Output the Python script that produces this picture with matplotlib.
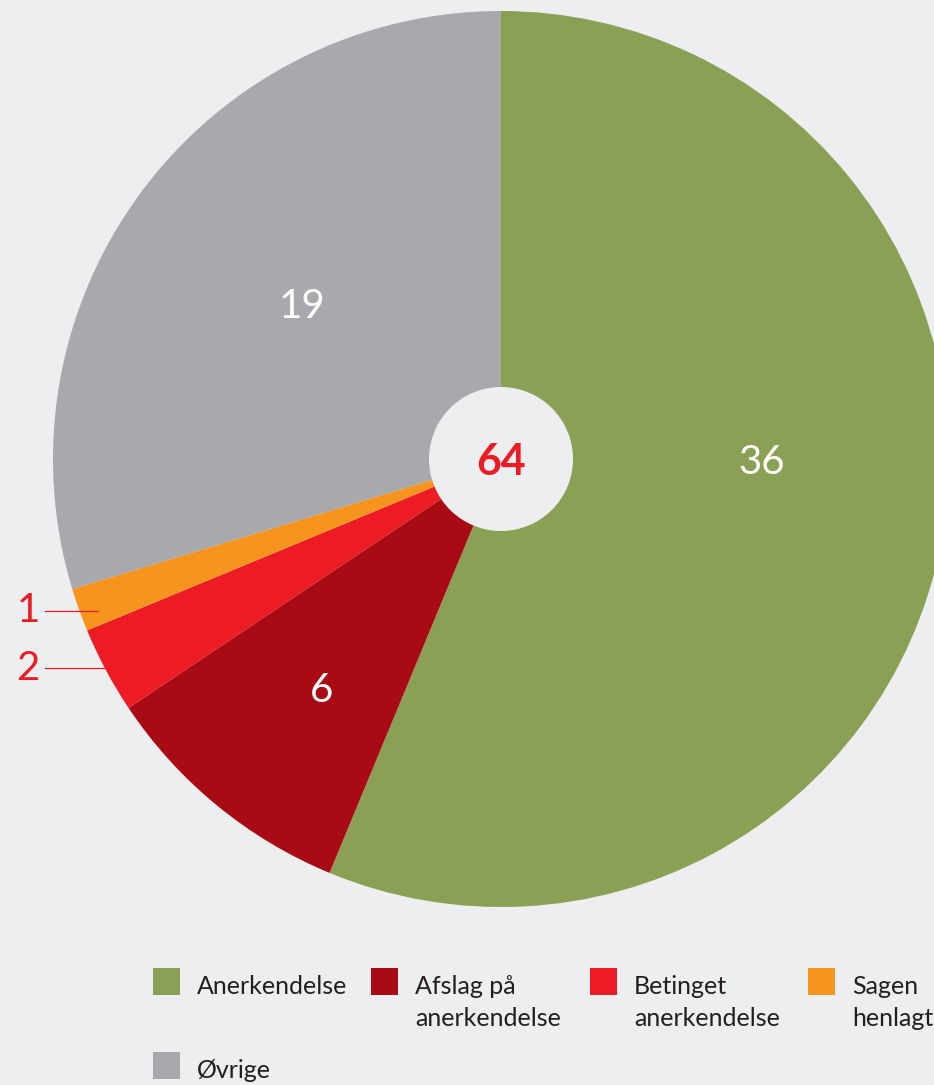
import matplotlib
matplotlib.use("Agg")
import matplotlib.pyplot as plt
from matplotlib.patches import Circle, Rectangle

BG = "#edeef0"
W, H = 934, 1085

categories = ["Anerkendelse", "Afslag på\nanerkendelse", "Betinget\nanerkendelse",
              "Sagen\nhenlagt", "Øvrige"]
values = [36, 6, 2, 1, 19]
colors = ["#8aa055", "#a90b14", "#ed1c24", "#f7941d", "#a7a9ac"]
total = sum(values)

# layout (pixel space, y measured from top)
CX, CY, R, HOLE = 501, 459, 448, 72
label_pos = [(762, 462), (322, 690), (28, 668), (28, 611), (302, 307)]
outside = [False, False, True, True, False]
leader_end = [None, None, 104, 98, None]
legend_xy = [(153, 968), (371, 968), (590, 968), (808, 968), (153, 1052)]

plt.rcParams["font.family"] = ["Lato", "DejaVu Sans"]

fig = plt.figure(figsize=(W / 100, H / 100), dpi=100, facecolor=BG)
ax = fig.add_axes([0, 0, 1, 1])
ax.set_facecolor(BG)

ax.pie(values, colors=colors, startangle=90, counterclock=False,
       radius=R, center=(CX, H - CY), wedgeprops=dict(linewidth=0))
ax.add_patch(Circle((CX, H - CY), HOLE, color=BG, lw=0, zorder=3))
ax.text(CX, H - CY - 3, str(total), color="#ed1c24", fontsize=31, fontweight="bold",
        ha="center", va="center", zorder=4)

for v, (x, y), out, le in zip(values, label_pos, outside, leader_end):
    if out:
        ax.text(x, H - y, str(v), color="#ed1c24", fontsize=29, ha="center",
                va="center", zorder=4)
        ax.plot([45, le], [H - y, H - y], color="#ed1c24", lw=0.9, zorder=4)
    else:
        ax.text(x, H - y, str(v), color="white", fontsize=29, ha="center",
                va="center", zorder=4)

# legend drawn by hand so the second row sits under the two-line labels
for lab, c, (x, y) in zip(categories, colors, legend_xy):
    ax.add_patch(Rectangle((x, H - y - 27), 27, 27, color=c, lw=0))
    ax.text(x + 44, H - y - 7, lab, color="#231f20", fontsize=18, ha="left",
            va="top", linespacing=1.45)

ax.set_xlim(0, W)
ax.set_ylim(0, H)
ax.set_aspect("auto")
ax.set_axis_off()

fig.savefig("out.png", dpi=100, facecolor=BG)
